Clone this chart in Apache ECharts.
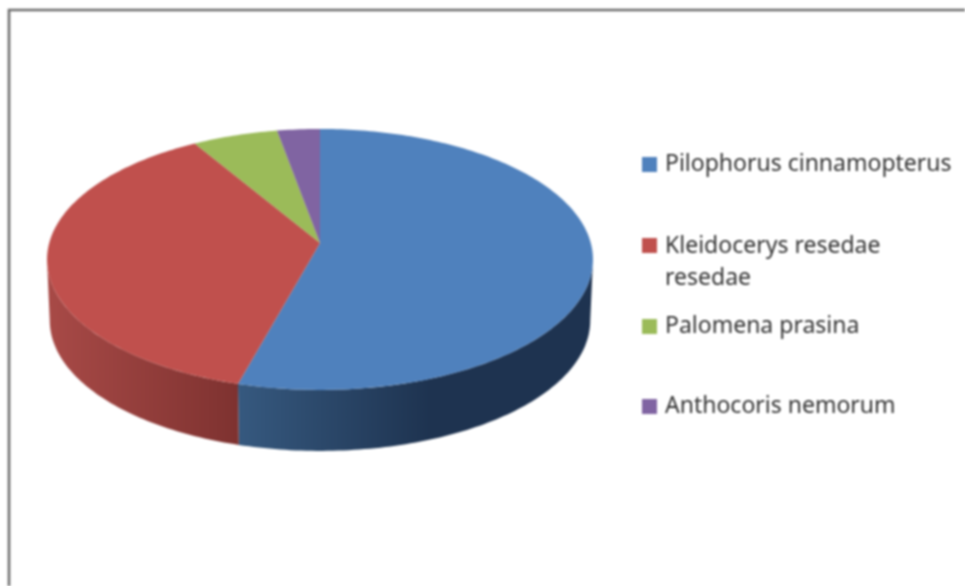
<!DOCTYPE html>
<html>
<head>
<meta charset="utf-8">
<style>
html,body{margin:0;padding:0;background:#fff;overflow:hidden}
#c{width:965px;height:586px;filter:blur(0.85px)}
</style>
<script src="https://cdn.jsdelivr.net/npm/echarts@6/dist/echarts.min.js"></script>
</head>
<body>
<div id="c"></div>
<script>
const names = ['Pilophorus cinnamopterus', 'Kleidocerys resedae\nresedae', 'Palomena prasina', 'Anthocoris nemorum'];
const values = [19, 13, 2, 1];
const topColors = ['#4F81BD', '#C0504D', '#9BBB59', '#8064A2'];
const sideColors = [['#36597f', '#1e3350'], ['#a84a47', '#7e3230'], ['#5e7a30', '#4f6a28'], ['#54406f', '#4a3763']];
const sideRanges = [[238, 430], [47, 238], [47, 320], [47, 320]];

const view = {cx: 320, cy: 243, rx: 270.8, ry: 128.4, persp: 0.126, depth: 61, baseScale: 0.99};
const legendTops = [147, 230, 309, 389];
const legendHeights = [15, 48, 15, 15];
const legendTextPad = [3, 0, 3, 3];

const total = values.reduce((a, b) => a + b, 0);
const frontFrom = 90 + Math.asin(view.persp) * 180 / Math.PI;
const frontTo = 360 - frontFrom;

function project(deg, base) {
  const t = deg * Math.PI / 180;
  const u = Math.sin(t), v = -Math.cos(t);
  const w = 1 - view.persp * v;
  const sx = base ? view.baseScale : 1;
  return [view.cx + sx * view.rx * u / w, view.cy + (base ? view.depth : 0) + view.ry * v / w];
}
function arc(a, b, base) {
  const pts = [];
  const n = Math.max(2, Math.ceil(b - a));
  for (let i = 0; i <= n; i++) pts.push(project(a + (b - a) * i / n, base));
  return pts;
}
function renderSlice(params, api) {
  const i = params.seriesIndex;
  let before = 0;
  for (let k = 0; k < i; k++) before += values[k];
  const a = before / total * 360;
  const b = a + api.value(0) / total * 360;
  const children = [{
    type: 'polygon', z2: 2 + i,
    shape: {points: [[view.cx, view.cy]].concat(arc(a, b, false))},
    style: {fill: topColors[i]}
  }];
  const wa = Math.max(a, frontFrom), wb = Math.min(b, frontTo);
  if (wb > wa) {
    children.push({
      type: 'polygon', z2: 1,
      shape: {points: arc(wa, wb, false).concat(arc(wa, wb, true).reverse())},
      style: {
        fill: new echarts.graphic.LinearGradient(sideRanges[i][0], 0, sideRanges[i][1], 0,
          [{offset: 0, color: sideColors[i][0]}, {offset: 1, color: sideColors[i][1]}], true)
      }
    });
  }
  return {type: 'group', children};
}

const chart = echarts.init(document.getElementById('c'), null, {renderer: 'canvas'});
chart.setOption({
  animation: false,
  backgroundColor: '#fff',
  color: topColors,
  graphic: [
    {type: 'rect', silent: true, shape: {x: 9, y: 10, width: 1200, height: 1200},
     style: {fill: 'none', stroke: '#6e6e6e', lineWidth: 2.6}}
  ],
  legend: names.map((n, i) => ({
    data: [i === 1
      ? {name: n, icon: 'path://M0 0H15V15H0Z M0 48L1 48L0 48Z'}
      : {name: n, icon: 'rect'}],
    left: 642,
    top: legendTops[i],
    padding: 0,
    itemWidth: 15,
    itemHeight: legendHeights[i],
    selectedMode: false,
    textStyle: {fontFamily: 'Noto Sans', fontSize: 23, lineHeight: 32, color: '#333333', padding: [legendTextPad[i], 0, 0, 3]}
  })),
  series: names.map((n, i) => ({
    type: 'custom',
    name: n,
    coordinateSystem: 'none',
    silent: true,
    itemStyle: {color: topColors[i]},
    renderItem: renderSlice,
    data: [values[i]]
  }))
});
</script>
</body>
</html>
